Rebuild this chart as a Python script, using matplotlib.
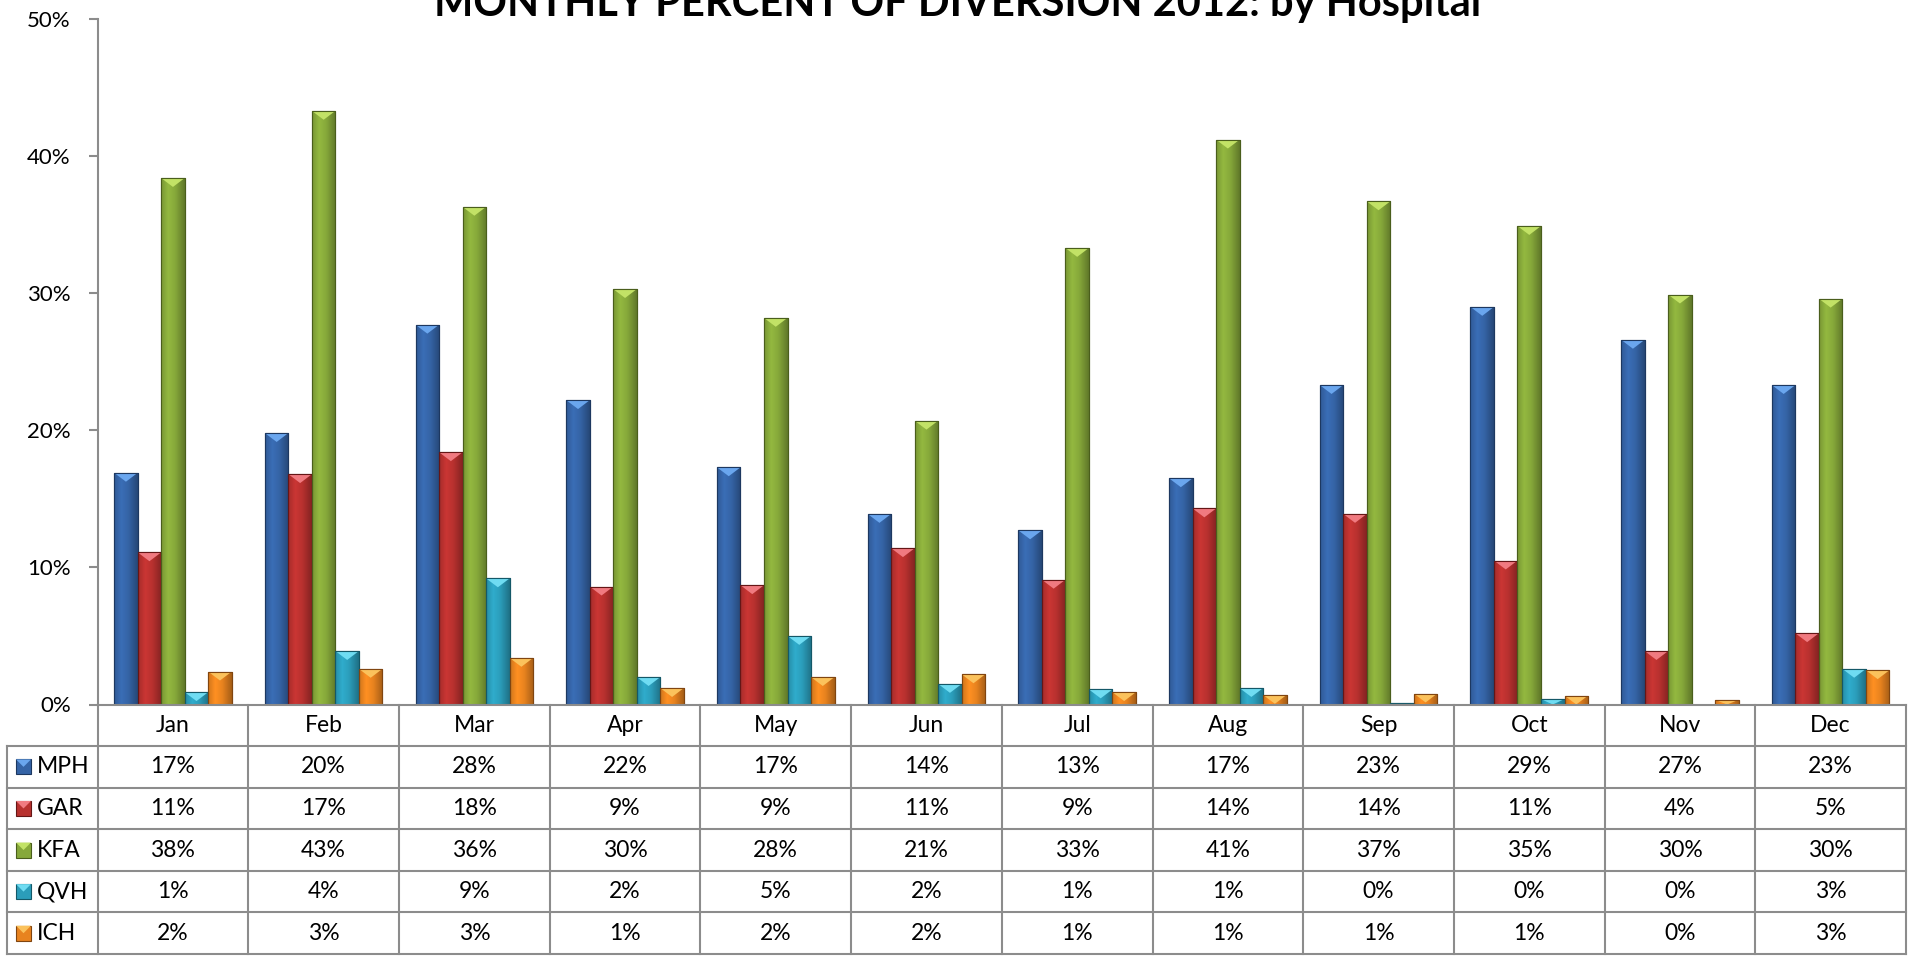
import numpy as np
import matplotlib
matplotlib.use("Agg")
import matplotlib.pyplot as plt
from matplotlib.patches import Rectangle, Polygon

plt.rcParams['font.family'] = ['Lato', 'DejaVu Sans']

# Data (percent of diversion per month)
months = ["Jan", "Feb", "Mar", "Apr", "May", "Jun", "Jul", "Aug", "Sep", "Oct", "Nov", "Dec"]
hospitals = ["MPH", "GAR", "KFA", "QVH", "ICH"]
mph = [16.9, 19.8, 27.7, 22.2, 17.3, 13.9, 12.7, 16.5, 23.3, 29.0, 26.6, 23.3]
gar = [11.1, 16.8, 18.4, 8.6, 8.7, 11.4, 9.1, 14.3, 13.9, 10.5, 3.9, 5.2]
kfa = [38.4, 43.3, 36.3, 30.3, 28.2, 20.7, 33.3, 41.2, 36.7, 34.9, 29.9, 29.6]
qvh = [0.9, 3.9, 9.2, 2.0, 5.0, 1.5, 1.1, 1.2, 0.1, 0.4, 0.0, 2.6]
ich = [2.4, 2.6, 3.4, 1.2, 2.0, 2.2, 0.9, 0.7, 0.8, 0.65, 0.34, 2.5]
series = [mph, gar, kfa, qvh, ich]
yticks = [0, 10, 20, 30, 40, 50]
title = "MONTHLY PERCENT OF DIVERSION 2012: by Hospital"

colors = ["#3564a6", "#b8312f", "#86a83a", "#2b9dba", "#e8831f"]
lights = ["#6aa6ee", "#f07a80", "#c2e266", "#6fdcf2", "#fbc25c"]
darks = ["#1d3860", "#651616", "#4a5e1c", "#145868", "#804510"]

W, H = 1913, 956
fig = plt.figure(figsize=(W / 100, H / 100), dpi=100)

# main axes
ax = fig.add_axes([97.6 / W, 1 - 704.5 / H, (1906 - 97.6) / W, (704.5 - 19) / H])
unit_px = (1906 - 97.6) / 12

x = np.arange(len(months))
bw = 0.156


def shade(hexcol):
    rgb = np.array(matplotlib.colors.to_rgb(hexcol))
    t = np.linspace(0, 1, 40)
    f = np.interp(t, [0, 0.3, 0.6, 1], [0.9, 1.1, 1.0, 0.72])
    return np.clip(rgb[None, None, :] * f[None, :, None], 0, 1)


for i, vals in enumerate(series):
    grad = shade(colors[i])
    bars = ax.bar(x + (i - 2) * bw, vals, width=bw, color=colors[i],
                  edgecolor=darks[i], linewidth=0.8, zorder=2)
    for b in bars:
        x0, h = b.get_x(), b.get_height()
        if h <= 0:
            continue
        ax.imshow(grad, extent=(x0, x0 + bw, 0, h), aspect='auto', zorder=2.1,
                  interpolation='bilinear')
        ch = min(0.65, h)
        tri = Polygon([(x0, h), (x0 + bw, h), (x0 + bw / 2, h - ch)],
                      closed=True, facecolor=lights[i], edgecolor='none', zorder=2.2)
        ax.add_patch(tri)
        tri.set_clip_path(b)
        ax.add_patch(Rectangle((x0, 0), bw, h, fill=False, edgecolor=darks[i],
                               linewidth=0.8, zorder=2.3))

ax.set_xlim(-0.5, 11.5)
ax.set_ylim(0, 50)
ax.set_yticks(yticks)
ax.set_yticklabels([f"{v}%" for v in yticks])
ax.set_xticks([])
for s in ["top", "right"]:
    ax.spines[s].set_visible(False)
for s in ["left", "bottom"]:
    ax.spines[s].set_color("#8c8c8c")
    ax.spines[s].set_linewidth(1.5)
ax.tick_params(axis='y', length=6.3, width=1.5, color="#8c8c8c", pad=13, labelsize=16)

fig.text(958 / W, 1 - 16 / H, title, ha='center', va='baseline',
         fontsize=30, fontweight='bold')

# data table below the chart
x_left = -0.5 - (97.6 - 6.7) / unit_px
tax = fig.add_axes([6.7 / W, 1 - 954 / H, (1906 - 6.7) / W, (954 - 704.5) / H])
tax.set_xlim(x_left, 11.5)
tax.set_ylim(6, 0)
tax.axis('off')

lc = "#8c8c8c"
for k in range(13):
    tax.plot([k - 0.5, k - 0.5], [0, 6], color=lc, lw=1.5, clip_on=False)
tax.plot([x_left, x_left], [1, 6], color=lc, lw=1.5, clip_on=False)
for r in range(1, 7):
    tax.plot([x_left, 11.5], [r, r], color=lc, lw=1.5, clip_on=False)

for j, m in enumerate(months):
    tax.text(j, 0.5, m, ha='center', va='center', fontsize=16.5)

sq_w = 15 / unit_px
sq_h = 15 / ((954 - 704.5) / 6)
for i, name in enumerate(hospitals):
    yc = i + 1.5
    sx = x_left + (16 - 6.7) / unit_px
    tax.add_patch(Rectangle((sx, yc - sq_h / 2), sq_w, sq_h, facecolor=colors[i],
                            edgecolor=darks[i], lw=0.8))
    tax.add_patch(Polygon([(sx, yc - sq_h / 2), (sx + sq_w, yc - sq_h / 2),
                           (sx + sq_w / 2, yc)], closed=True,
                          facecolor=lights[i], edgecolor='none'))
    tax.text(x_left + (37 - 6.7) / unit_px, yc, name, ha='left', va='center', fontsize=16.5)
    for j, v in enumerate(series[i]):
        tax.text(j, yc, f"{int(v + 0.5)}%", ha='center', va='center', fontsize=16.5)

fig.savefig("out.png", dpi=100)
